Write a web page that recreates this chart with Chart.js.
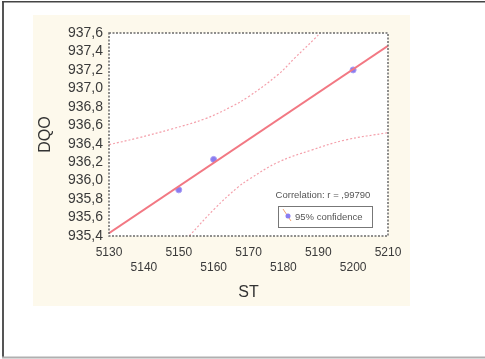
<!DOCTYPE html>
<html>
<head>
<meta charset="utf-8">
<script src="https://cdn.jsdelivr.net/npm/chart.js@4/dist/chart.umd.min.js"></script>
<style>
  html, body { margin: 0; padding: 0; background: #ffffff; }
  #chart { display: block; }
</style>
</head>
<body>
<canvas id="chart" width="485" height="359"></canvas>
<script>
// Observed samples: ST vs DQO
const stValues  = [5150, 5160, 5200];
const dqoValues = [935.90, 936.23, 937.20];

// Fitted regression line (end points)
const fitST  = [5130, 5210];
const fitDQO = [935.43, 937.46];

// Upper 95% confidence limit
const upperST  = [5130, 5138, 5148, 5157.5, 5165, 5170, 5178.5, 5183.3, 5189, 5190.5];
const upperDQO = [936.39, 936.46, 936.56, 936.67, 936.80, 936.91, 937.15, 937.33, 937.54, 937.6];

// Lower 95% confidence limit
const lowerST  = [5153, 5160.4, 5167, 5170.4, 5178.5, 5188, 5197.7, 5210];
const lowerDQO = [935.40, 935.70, 935.93, 936.02, 936.20, 936.33, 936.44, 936.52];

// Axis ticks
const xTicks = [5130, 5140, 5150, 5160, 5170, 5180, 5190, 5200, 5210];
const yTicks = [935.4, 935.6, 935.8, 936.0, 936.2, 936.4, 936.6, 936.8, 937.0, 937.2, 937.4, 937.6];

const xTitle = 'ST';
const yTitle = 'DQO';
const correlationText = 'Correlation: r = ,99790';
const confidenceText = '95% confidence';

const FONT = "'Liberation Sans', Arial, sans-serif";

const toPoints = (xs, ys) => xs.map((x, i) => ({ x: x, y: ys[i] }));
const fmtComma = v => v.toFixed(1).replace('.', ',');

const framePlugin = {
  id: 'frame',
  beforeDraw(chart) {
    const { ctx, chartArea: a } = chart;
    ctx.save();
    ctx.fillStyle = '#ffffff';
    ctx.fillRect(0, 0, chart.width, chart.height);
    // outer frame
    ctx.fillStyle = '#555555';
    ctx.fillRect(2, 1, 2, 357);
    ctx.fillStyle = '#444444';
    ctx.fillRect(2, 1, 483, 1.5);
    ctx.fillStyle = '#b0b0b0';
    ctx.fillRect(2, 356.5, 483, 2);
    // cream panel behind the graph
    ctx.fillStyle = '#fdf9ec';
    ctx.fillRect(33, 15, 377, 291);
    // plot area
    ctx.fillStyle = '#ffffff';
    ctx.fillRect(a.left, a.top, a.right - a.left, a.bottom - a.top);
    ctx.restore();
  },
  afterDatasetsDraw(chart) {
    const { ctx, chartArea: a } = chart;
    ctx.save();
    // dotted plot border
    ctx.strokeStyle = '#6a6a6a';
    ctx.lineWidth = 1.5;
    ctx.setLineDash([2, 1.5]);
    ctx.strokeRect(a.left, a.top, a.right - a.left, a.bottom - a.top);
    ctx.setLineDash([]);

    // correlation note
    ctx.fillStyle = '#555555';
    ctx.font = '9.5px ' + FONT;
    ctx.textAlign = 'center';
    ctx.textBaseline = 'middle';
    ctx.fillText(correlationText, 323, 195);

    // legend box
    ctx.strokeStyle = '#777777';
    ctx.lineWidth = 1;
    ctx.strokeRect(278.5, 206.5, 94, 21);
    ctx.strokeStyle = '#f0a070';
    ctx.beginPath();
    ctx.moveTo(283, 209);
    ctx.lineTo(291, 221);
    ctx.stroke();
    ctx.fillStyle = '#8a7cf0';
    ctx.beginPath();
    ctx.arc(288, 216, 2.5, 0, Math.PI * 2);
    ctx.fill();
    ctx.fillStyle = '#555555';
    ctx.textAlign = 'left';
    ctx.fillText(confidenceText, 295, 217);
    ctx.restore();
  }
};

const bandStyle = {
  borderColor: '#f4a0ab',
  borderWidth: 1.2,
  borderDash: [2, 2],
  pointRadius: 0,
  showLine: true,
  tension: 0.4,
  fill: false
};

new Chart(document.getElementById('chart'), {
  type: 'scatter',
  data: {
    datasets: [
      Object.assign({ label: 'upper', data: toPoints(upperST, upperDQO) }, bandStyle),
      Object.assign({ label: 'lower', data: toPoints(lowerST, lowerDQO) }, bandStyle),
      {
        label: 'fit',
        data: toPoints(fitST, fitDQO),
        borderColor: '#f27883',
        borderWidth: 2,
        pointRadius: 0,
        showLine: true,
        fill: false
      },
      {
        label: 'DQO',
        data: toPoints(stValues, dqoValues),
        pointRadius: 3,
        pointBackgroundColor: '#8a7cf0',
        pointBorderColor: '#a99ff5',
        pointBorderWidth: 1,
        showLine: false
      }
    ]
  },
  options: {
    responsive: false,
    animation: false,
    devicePixelRatio: 1,
    layout: { padding: { left: 0, top: 33, right: 97, bottom: 0 } },
    plugins: {
      legend: { display: false },
      tooltip: { enabled: false },
      title: { display: false }
    },
    scales: {
      x: {
        type: 'linear',
        min: 5130,
        max: 5210,
        afterFit(scale) { scale.height = 123; },
        afterBuildTicks(scale) { scale.ticks = xTicks.map(v => ({ value: v })); },
        grid: { display: false, drawTicks: false },
        border: { display: false },
        ticks: {
          autoSkip: false,
          maxRotation: 0,
          minRotation: 0,
          padding: 9,
          color: '#3a3a3a',
          font: { family: FONT, size: 12, lineHeight: 1.25 },
          callback(value, index) {
            const s = String(value);
            return index % 2 === 0 ? [s, ''] : ['', s];
          }
        },
        title: {
          display: true,
          text: xTitle,
          color: '#333333',
          font: { family: FONT, size: 16 },
          padding: { top: 0, bottom: 57 }
        }
      },
      y: {
        type: 'linear',
        min: 935.4,
        max: 937.6,
        afterFit(scale) { scale.width = 109; },
        afterBuildTicks(scale) { scale.ticks = yTicks.map(v => ({ value: v })); },
        grid: { display: false, drawTicks: false },
        border: { display: false },
        ticks: {
          autoSkip: false,
          padding: 6,
          color: '#3a3a3a',
          font: { family: FONT, size: 14 },
          callback(value) { return fmtComma(value); }
        },
        title: {
          display: true,
          text: yTitle,
          color: '#333333',
          font: { family: FONT, size: 16 },
          padding: { top: 36, bottom: 0 }
        }
      }
    }
  },
  plugins: [framePlugin]
});
</script>
</body>
</html>
